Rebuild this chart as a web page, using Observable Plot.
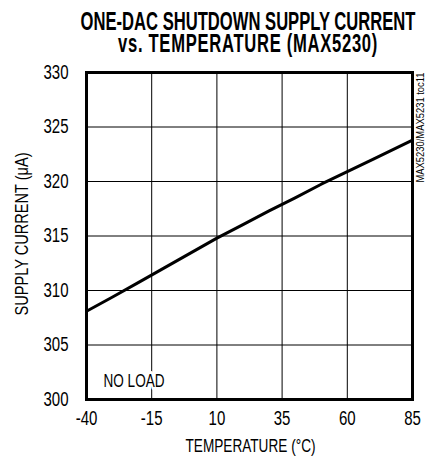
<!DOCTYPE html>
<html>
<head>
<meta charset="utf-8">
<script src="https://cdn.jsdelivr.net/npm/d3@7"></script>
<script src="https://cdn.jsdelivr.net/npm/@observablehq/plot@0.6"></script>
<style>
  html, body { margin: 0; padding: 0; background: #fff; }
  #wrap { width: 426px; height: 459px; position: relative; overflow: hidden; }
  #title { position: absolute; left: 248px; top: 10px; width: max-content; text-align: center;
    white-space: nowrap; font-family: 'Liberation Sans', Arial, sans-serif;
    font-weight: bold; font-size: 25px; line-height: 22px; color: #000;
    transform-origin: 0 0; }
  #chart { position: absolute; left: 0; top: 60px; }
  #chart svg { display: block; }
</style>
</head>
<body>
<div id="wrap">
  <div id="title"><span id="t1">ONE-DAC SHUTDOWN SUPPLY CURRENT</span><br><span id="t2">vs. TEMPERATURE (MAX5230)</span></div>
  <div id="chart"></div>
</div>
<script>
const temps = [-40, -30, -20, -10, 0, 10, 20, 30, 40, 50, 60, 70, 85];
const current = [308.1, 309.4, 310.75, 312.1, 313.45, 314.8, 316.05, 317.3, 318.5, 319.75, 320.9, 322.05, 323.8];
const xTicks = [-40, -15, 10, 35, 60, 85];
const yTicks = [300, 305, 310, 315, 320, 325, 330];
const xLabel = "TEMPERATURE (°C)";
const yLabel = "SUPPLY CURRENT (μA)";
const note = "NO LOAD";
const sideTag = "MAX5230/MAX5231 toc11";

const data = temps.map((t, i) => ({t, c: current[i]}));
const font = "'Liberation Sans', Arial, sans-serif";

const chart = Plot.plot({
  width: 426,
  height: 399,
  marginLeft: 86,
  marginRight: 14,
  marginTop: 12,
  marginBottom: 60,
  style: {fontFamily: font, fontSize: "20px", color: "#000", background: "#fff"},
  x: {domain: [-40, 85], label: null},
  y: {domain: [300, 330], label: null},
  marks: [
    Plot.gridX(xTicks, {stroke: "#000", strokeOpacity: 1, strokeWidth: 1}),
    Plot.gridY(yTicks, {stroke: "#000", strokeOpacity: 1, strokeWidth: 1}),
    Plot.text([note], {frameAnchor: "bottom-left", dx: 17, dy: -18, textAnchor: "start",
      lineAnchor: "middle", fontSize: 18, fill: "#000", stroke: "#fff", strokeWidth: 6}),
    Plot.line(data, {x: "t", y: "c", stroke: "#000", strokeWidth: 3}),
    Plot.frame({stroke: "#000", strokeWidth: 3}),
    Plot.axisX(xTicks, {tickSize: 0, tickPadding: 11, fontSize: 20, label: null, tickFormat: d => String(d)}),
    Plot.axisY(yTicks, {tickSize: 0, tickPadding: 18, fontSize: 20, label: null, tickFormat: d => String(d)}),
    Plot.text([xLabel], {frameAnchor: "bottom", dx: 1, dy: 47, lineAnchor: "middle", fontSize: 17.5}),
    Plot.text([yLabel], {frameAnchor: "left", dx: -64, dy: 79.5, rotate: -90, textAnchor: "start",
      lineAnchor: "middle", fontSize: 18}),
    Plot.text([sideTag], {frameAnchor: "top-right", dx: 8.5, dy: 0, rotate: -90, textAnchor: "end",
      lineAnchor: "middle", fontSize: 10})
  ]
});
document.getElementById("chart").appendChild(chart);

// condensed look: squeeze chart texts along their own baseline
const fixedLengths = new Map([[xLabel, 130], [yLabel, 163], [note, 61], [sideTag, 110]]);
for (const t of chart.querySelectorAll("text")) {
  const len = t.getComputedTextLength();
  if (len > 0) {
    const target = fixedLengths.get(t.textContent.trim()) ?? len * 0.75;
    t.setAttribute("textLength", target.toFixed(2));
    t.setAttribute("lengthAdjust", "spacingAndGlyphs");
  }
}

// fit the two-line title to the reference widths (centered on x=248)
const title = document.getElementById("title");
const t1 = document.getElementById("t1"), t2 = document.getElementById("t2");
const w1 = t1.getBoundingClientRect().width;
const s = 335 / w1;
const w2 = t2.getBoundingClientRect().width;
const n2 = t2.textContent.length;
t2.style.letterSpacing = `${((260 / s) - w2) / n2}px`;
title.style.transform = `translateX(${-335 / 2}px) scaleX(${s})`;
</script>
</body>
</html>
